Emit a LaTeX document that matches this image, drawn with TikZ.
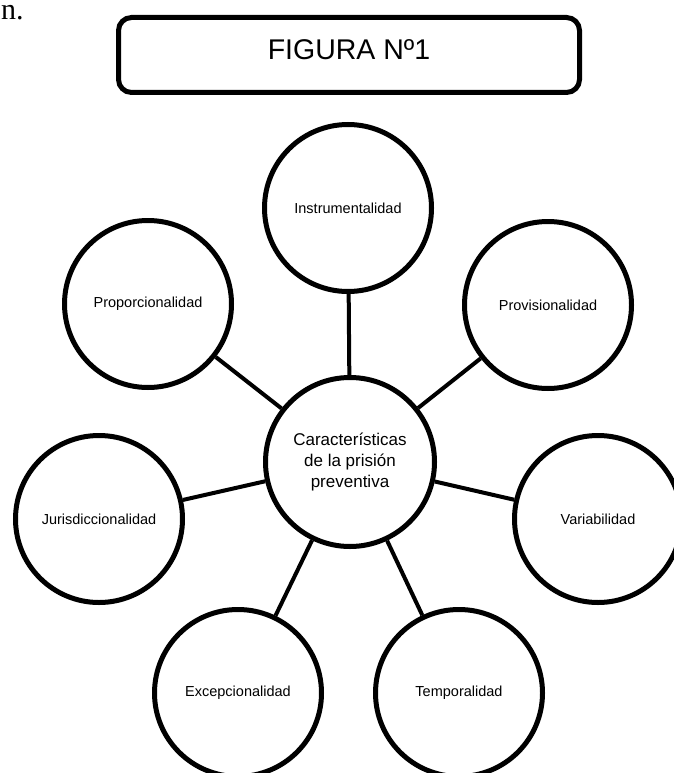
\documentclass[tikz,border=0pt]{standalone}
\usepackage{fontspec}
\setmainfont{Liberation Sans}
\newfontfamily\serifn{Liberation Serif}
\usetikzlibrary{positioning}
\tikzset{
  feature/.style={ % circle holding one characteristic
    circle, draw, line width=5pt,
    minimum size=167pt, inner sep=0pt, text=black,
    font=\fontsize{14.5}{17}\selectfont
  },
  hub/.style={ % central circle
    circle, draw, line width=5pt,
    minimum size=169pt, inner sep=0pt, align=center,
    font=\fontsize{17}{21}\selectfont
  },
  caption/.style={ % rounded title box
    draw, rectangle, rounded corners=13pt, line width=5pt,
    minimum width=461pt, minimum height=75pt, inner sep=0pt,
    text height=21pt, text depth=12pt,
    font=\fontsize{28.5}{32}\selectfont
  },
  link/.style={line width=4pt}
}
\begin{document}
\begin{tikzpicture}[x=1pt, y=-1pt]
      \useasboundingbox (0,0) rectangle (673,773);

      \node[anchor=base west, inner sep=0pt, font=\serifn\fontsize{30}{34}\selectfont] (prev) at (1,20) {n.};
      \node[caption] (fig) at (349,55) {FIGURA Nº1};

      \node[hub] (C) at (350,462) {Características\\de la prisión\\preventiva};
      \node[feature] (instr) at (348,208) {Instrumentalidad};
      \node[feature] (propo) at (148,304) {Proporcionalidad};
      \node[feature] (provi) at (548,305) {Provisionalidad};
      \node[feature] (juris) at (99,519) {Jurisdiccionalidad};
      \node[feature] (varia) at (598,519) {Variabilidad};
      \node[feature] (excep) at (238,693) {Excepcionalidad};
      \node[feature] (tempo) at (459,693) {Temporalidad};

      \foreach \n in {instr,propo,provi,juris,varia,excep,tempo}
        \draw[link] (C) -- (\n);
\end{tikzpicture}
\end{document}
